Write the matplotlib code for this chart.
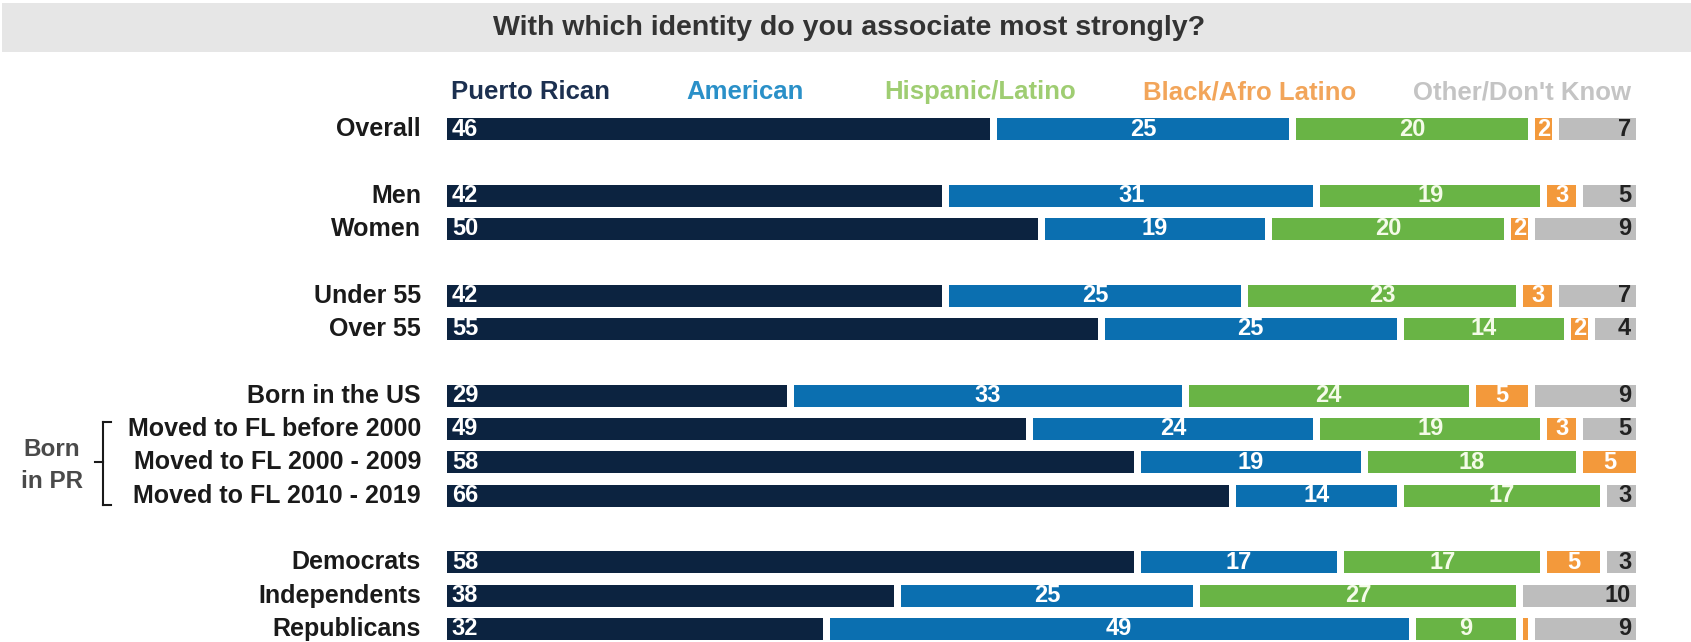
import matplotlib
matplotlib.use("Agg")
import matplotlib.pyplot as plt
from matplotlib.patches import Rectangle
from matplotlib.lines import Line2D

plt.rcParams['font.family'] = ['Liberation Sans', 'DejaVu Sans']

# data
categories = ["Overall", "Men", "Women", "Under 55", "Over 55", "Born in the US",
              "Moved to FL before 2000", "Moved to FL 2000 - 2009", "Moved to FL 2010 - 2019",
              "Democrats", "Independents", "Republicans"]
series_names = ["Puerto Rican", "American", "Hispanic/Latino", "Black/Afro Latino", "Other/Don't Know"]
puerto_rican = [46, 42, 50, 42, 55, 29, 49, 58, 66, 58, 38, 32]
american = [25, 31, 19, 25, 25, 33, 24, 19, 14, 17, 25, 49]
hispanic = [20, 19, 20, 23, 14, 24, 19, 18, 17, 17, 27, 9]
black = [2, 3, 2, 3, 2, 5, 3, 5, 0, 5, 0, 1]
other = [7, 5, 9, 7, 4, 9, 5, 0, 3, 3, 10, 9]

# layout
rows = [0, 2, 3, 5, 6, 8, 9, 10, 11, 13, 14, 15]
bar_colors = ["#0c2340", "#0b6fb0", "#69b445", "#f3993b", "#bdbdbd"]
legend_colors = ["#1c3050", "#2a90c8", "#9fcd72", "#f2a55a", "#c4c4c4"]
value_colors = ["white", "white", "#f4fbe8", "white", "#222222"]
legend_x = [451, 686, 884, 1143, 1413]

W, H = 1691, 642
fig = plt.figure(figsize=(W / 100, H / 100), dpi=100)

# pixel geometry of the bar area
x0_px, scale = 447, 11.96
gap = 7 / scale
row0_px, row_step = 129, 33.33
y_top, y_bot = -2.0, (H - row0_px) / row_step
ax_top_px = row0_px + y_top * row_step
ax = fig.add_axes([x0_px / W, 0, 100 * scale / W, (H - ax_top_px) / H])
ax.set_xlim(0, 100)
ax.set_ylim(y_bot, y_top)
ax.axis("off")

vfs = 17
series = [puerto_rican, american, hispanic, black, other]
for i, y in enumerate(rows):
    left = 0
    for k, vals in enumerate(series):
        v = vals[i]
        if v > 0:
            ax.barh(y, v - gap, left=left, height=0.66, color=bar_colors[k], align="center")
            if v >= 2:
                if k == 0:
                    ax.text(left + 0.4, y, str(v), ha="left", va="center", color=value_colors[k],
                            fontsize=vfs, fontweight="bold")
                elif k == 4:
                    ax.text(left + v - gap - 0.4, y, str(v), ha="right", va="center",
                            color=value_colors[k], fontsize=vfs, fontweight="bold")
                else:
                    ax.text(left + (v - gap) / 2, y, str(v), ha="center", va="center",
                            color=value_colors[k], fontsize=vfs, fontweight="bold")
        left += v
    fig.text(421 / W, 1 - (row0_px + y * row_step) / H, categories[i], ha="right", va="center",
             fontsize=18, fontweight="bold", color="#1a1a1a")

# legend as coloured headers
for k, name in enumerate(series_names):
    fig.text(legend_x[k] / W, 1 - 92 / H, name, ha="left", va="center", fontsize=18.5,
             fontweight="bold", color=legend_colors[k])

# title band
fig.patches.append(Rectangle((2 / W, 1 - 52 / H), 1 - 2 / W, 49 / H, transform=fig.transFigure,
                             facecolor="#e6e6e6", edgecolor="none", zorder=0))
fig.text(849 / W, 1 - 28 / H, "With which identity do you associate most strongly?",
         ha="center", va="center", fontsize=20.5, fontweight="bold", color="#333333")

# bracket for "Born in PR"
def px(x, y):
    return x / W, 1 - y / H

bx, btop, bbot, bmid = 103, 422, 505, 462
for (xa, ya), (xb, yb) in [((bx, btop), (bx, bbot)), ((bx, btop), (bx + 8, btop)),
                           ((bx, bbot), (bx + 8, bbot)), ((bx, bmid), (bx - 8, bmid))]:
    (fx0, fy0), (fx1, fy1) = px(xa, ya), px(xb, yb)
    fig.add_artist(Line2D([fx0, fx1], [fy0, fy1], transform=fig.transFigure, color="#1a1a1a", lw=1.5))
fig.text(52 / W, 1 - 449 / H, "Born", ha="center", va="center", fontsize=17.5,
         fontweight="bold", color="#4a4a4a")
fig.text(52 / W, 1 - 481 / H, "in PR", ha="center", va="center", fontsize=17.5,
         fontweight="bold", color="#4a4a4a")

fig.savefig("out.png", dpi=100)
